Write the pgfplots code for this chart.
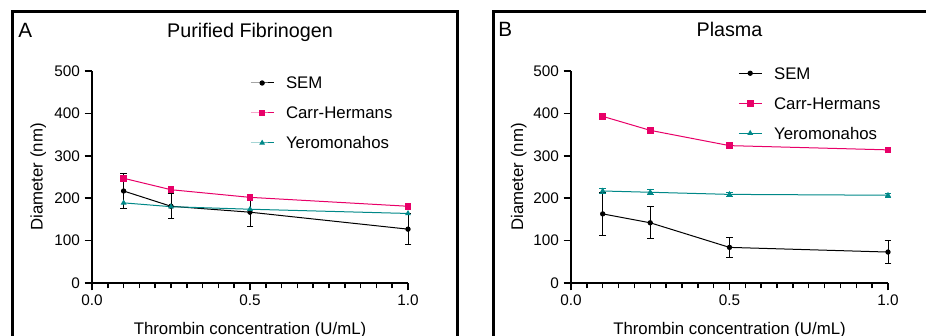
\documentclass[border=0pt]{standalone}
\usepackage{fontspec}
\setmainfont{Liberation Sans}
\usepackage{pgfplots}
\usepackage{pgfplotstable}
\pgfplotsset{compat=1.18}
\definecolor{chpink}{RGB}{232,0,104}
\definecolor{yteal}{RGB}{0,136,136}

\pgfplotstableread{
x y e
0.10 217 42
0.25 181 30
0.50 167 34
1.00 127 37
}\semA
\pgfplotstableread{
x y
0.10 247
0.25 220
0.50 202
1.00 181
}\carrA
\pgfplotstableread{
x y
0.10 189
0.25 180
0.50 174
1.00 164
}\yeroA
\pgfplotstableread{
x y e
0.10 163 50
0.25 142 38
0.50 84 24
1.00 73 28
}\semB
\pgfplotstableread{
x y
0.10 393
0.25 360
0.50 324
1.00 314
}\carrB
\pgfplotstableread{
x y e
0.10 217 6
0.25 214 6
0.50 209 5
1.00 207 5
}\yeroB

\pgfplotsset{
  myaxis/.style={
    scale only axis, width=237pt, height=159pt,
    anchor=south west,
    xmin=0, xmax=1, ymin=0, ymax=500,
    axis x line*=bottom, axis y line*=left,
    axis line style={line width=1.5pt, black},
    xtick={0,0.5,1}, xticklabels={0.0,0.5,1.0},
    minor xtick={0.05,0.1,0.15,0.2,0.25,0.3,0.35,0.4,0.45,0.55,0.6,0.65,0.7,0.75,0.8,0.85,0.9,0.95},
    ytick={0,100,200,300,400,500},
    tick align=outside,
    major tick length=5.5pt, minor tick length=4pt,
    every tick/.style={line width=1.1pt, black},
    tick label style={font=\fontsize{11.5}{13}\selectfont},
    /pgf/number format/assume math mode=true,
    clip=false,
    xlabel={Thrombin concentration (U/mL)},
    ylabel={Diameter (nm)},
    label style={font=\fontsize{12.6}{14}\selectfont},
    xlabel style={at={(axis description cs:0.5,0)}, anchor=base, yshift=-39pt},
    every axis title shift=0pt,
    title style={at={(axis description cs:0.5,1)}, anchor=base, font=\fontsize{14.8}{16}\selectfont},
    legend cell align=left,
    legend style={draw=none, fill=none, anchor=north west, inner sep=0pt,
      row sep=13.5pt, column sep=9pt,
      nodes={inner sep=0pt, text height=9pt, text depth=0pt, font=\fontsize{12.6}{14}\selectfont}},
  },
  semstyle/.style={black, line width=0.75pt, mark=*, mark size=1.6pt,
    mark options={solid, fill=black, draw=black},
    error bars/.cd, y dir=both, y explicit,
    error bar style={line width=0.75pt, black},
    error mark options={rotate=90, mark size=2.6pt, line width=0.75pt, black}},
  carrstyle/.style={chpink, line width=0.75pt, mark=square*, mark size=2.1pt,
    mark options={solid, fill=chpink, draw=chpink}},
  yeroplain/.style={yteal, line width=0.75pt, mark=triangle*, mark size=1.8pt,
    mark options={solid, fill=yteal, draw=yteal}},
  yerostyle/.style={yeroplain,
    error bars/.cd, y dir=both, y explicit,
    error bar style={line width=0.75pt, yteal},
    error mark options={rotate=90, mark size=2.6pt, line width=0.75pt, yteal}},
}

\begin{document}
\begin{tikzpicture}
\useasboundingbox (0,0) rectangle (694.5pt,252pt);
\clip (0,0) rectangle (694.5pt,252pt);

% panel frames
\draw[line width=2.25pt] (9.375pt,-10pt) |- (343.1pt,243.4pt) -- (343.1pt,-10pt);
\draw[line width=2.25pt] (369.75pt,-10pt) |- (710pt,243.4pt);

\node[anchor=base west, inner sep=0pt, font=\fontsize{15.5}{17}\selectfont] at (13.5pt,223.5pt) {A};
\node[anchor=base west, inner sep=0pt, font=\fontsize{15.5}{17}\selectfont] at (373.5pt,224.25pt) {B};

\begin{axis}[myaxis, at={(69pt,39.75pt)},
  title={Purified Fibrinogen},
  title style={yshift=25pt},
  ylabel style={at={(axis description cs:-0.156,0.5)}, anchor=base},
  legend style={at={(axis description cs:0.5,0.973)}}]
\addplot[semstyle] table[x=x, y=y, y error=e] {\semA};
\addlegendentry{SEM}
\addplot[carrstyle] table[x=x, y=y] {\carrA};
\addlegendentry{Carr-Hermans}
\addplot[yeroplain] table[x=x, y=y] {\yeroA};
\addlegendentry{Yeromonahos}
\end{axis}

\begin{axis}[myaxis, at={(428.25pt,39.75pt)}, width=237.75pt,
  title={Plasma},
  title style={yshift=25.7pt},
  ylabel style={at={(axis description cs:-0.151,0.5)}, anchor=base},
  legend style={at={(axis description cs:0.527,1.019)}}]
\addplot[semstyle] table[x=x, y=y, y error=e] {\semB};
\addlegendentry{SEM}
\addplot[carrstyle] table[x=x, y=y] {\carrB};
\addlegendentry{Carr-Hermans}
\addplot[yerostyle] table[x=x, y=y, y error=e] {\yeroB};
\addlegendentry{Yeromonahos}
\end{axis}
\end{tikzpicture}
\end{document}
